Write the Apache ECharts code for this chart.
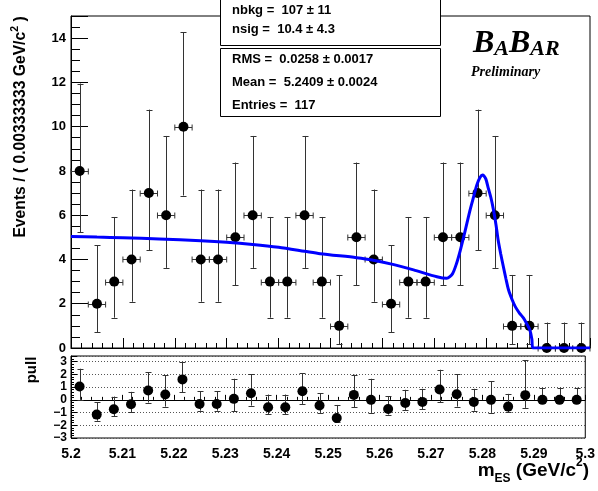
<!DOCTYPE html>
<html>
<head>
<meta charset="utf-8">
<script src="https://cdn.jsdelivr.net/npm/echarts@6/dist/echarts.min.js"></script>
<style>
  html, body { margin: 0; padding: 0; background: #fff; }
  #chart { width: 598px; height: 491px; }
</style>
</head>
<body>
<div id="chart"></div>
<script>
// data
const binCenters = [5.20167, 5.205, 5.20833, 5.21167, 5.215, 5.21833, 5.22167, 5.225, 5.22833, 5.23167,
                    5.235, 5.23833, 5.24167, 5.245, 5.24833, 5.25167, 5.255, 5.25833, 5.26167, 5.265,
                    5.26833, 5.27167, 5.275, 5.27833, 5.28167, 5.285, 5.28833, 5.29167, 5.295, 5.29833];
const binHalfWidth = 0.00166667;
const counts    = [8, 2, 3, 4, 7, 6, 10, 4, 4, 5, 6, 3, 3, 6, 3, 1, 5, 4, 2, 3, 3, 5, 5, 7, 6, 1, 1, 0, 0, 0];
const countLow  = [5.23, 0.71, 1.37, 2.09, 4.42, 3.62, 6.89, 2.09, 2.09, 2.84, 3.62, 1.37, 1.37, 3.62, 1.37,
                   0.17, 2.84, 2.09, 0.71, 1.37, 1.37, 2.84, 2.84, 4.42, 3.62, 0.17, 0.17, 0, 0, 0];
const countHigh = [11.95, 4.64, 5.92, 7.16, 10.77, 9.58, 14.27, 7.16, 7.16, 8.38, 9.58, 5.92, 5.92, 9.58, 5.92,
                   3.30, 8.38, 7.16, 4.64, 5.92, 5.92, 8.38, 8.38, 10.77, 9.58, 3.30, 3.30, 1.15, 1.15, 1.15];

const pull     = [1.05, -1.16, -0.74, -0.35, 0.74, 0.42, 1.61, -0.32, -0.32, 0.08, 0.52, -0.58, -0.58, 0.68, -0.45,
                  -1.43, 0.39, 0.0, -0.72, -0.24, -0.16, 0.82, 0.44, -0.16, 0.0, -0.53, 0.37, 0, 0, 0];
const pullLow  = [0.0, -1.64, -1.27, -0.98, -0.21, -0.53, 0.6, -0.85, -0.85, -0.9, -0.45, -1.11, -1.11, -0.32, -1.0,
                  -1.77, -0.58, -1.0, -1.16, -0.79, -0.74, -0.19, -0.53, -0.85, -1.0, -0.98, -0.63, 0, 0, 0];
const pullHigh = [2.45, -0.19, 0.26, 0.63, 2.19, 1.92, 2.95, 0.68, 0.68, 1.66, 2.0, 0.42, 0.42, 2.1, 0.52,
                  -0.4, 1.98, 1.66, 0.29, 0.79, 0.87, 2.37, 2.0, 0.87, 1.47, 0.47, 3.1, 0.95, 0.95, 0.95];

// fit curve (ARGUS + gaussian), read point by point
const curveX = [5.200, 5.205, 5.210, 5.217, 5.225, 5.230, 5.235, 5.240, 5.245, 5.248, 5.255, 5.258, 5.262, 5.266,
                5.2705, 5.2724, 5.2735, 5.2743, 5.2750, 5.2756, 5.2763, 5.2769, 5.2776, 5.2782, 5.2788, 5.2793,
                5.2799, 5.2804, 5.2809, 5.2814, 5.2819, 5.2823, 5.2828, 5.2833, 5.2838, 5.2843, 5.2850, 5.2856,
                5.2864, 5.2872, 5.2878, 5.2884, 5.2888, 5.2890, 5.3000];
const curveY = [5.04, 5.01, 4.98, 4.93, 4.85, 4.78, 4.68, 4.55, 4.37, 4.26, 4.08, 3.98, 3.78, 3.53,
                3.22, 3.15, 3.35, 3.83, 4.40, 4.96, 5.65, 6.24, 6.85, 7.37, 7.70, 7.82,
                7.65, 7.22, 6.80, 6.24, 5.55, 4.88, 4.25, 3.68, 3.13, 2.63, 2.18, 1.87,
                1.58, 1.35, 1.10, 0.82, 0.40, 0.00, 0.00];

const xTickLabels = ['5.2', '5.21', '5.22', '5.23', '5.24', '5.25', '5.26', '5.27', '5.28', '5.29', '5.3'];
const yTickLabels = ['0', '2', '4', '6', '8', '10', '12', '14'];
const pullTickLabels = ['\u22123', '\u22122', '\u22121', '0', '1', '2', '3'];

const boxLines1 = ['nbkg =  107 \u00b1 11', 'nsig =  10.4 \u00b1 4.3'];
const boxLines2 = ['RMS =  0.0258 \u00b1 0.0017', 'Mean =  5.2409 \u00b1 0.0024', 'Entries =  117'];

const FONT = '"Liberation Sans", Arial, Helvetica, sans-serif';
const SERIF = '"Liberation Serif", "Times New Roman", serif';

const chart = echarts.init(document.getElementById('chart'), null, { renderer: 'canvas' });

const xLabel = v => {
    const i = Math.round((v - 5.2) / 0.01);
    return Math.abs(v - (5.2 + i * 0.01)) < 1e-6 ? (xTickLabels[i] ?? '') : '';
};

// vertical (+ optional horizontal) error bars with small end caps
const errBars = (withHoriz) => (params, api) => {
    const x = api.value(0), y = api.value(1);
    const c = api.coord([x, y]);
    const top = api.coord([x, api.value(3)]);
    const bot = api.coord([x, api.value(2)]);
    const px = Math.round(c[0]) + 0.5;
    const cap = 3;
    const st = { stroke: '#333', lineWidth: 1 };
    const children = [
        { type: 'line', shape: { x1: px, y1: top[1], x2: px, y2: bot[1] }, style: st },
        { type: 'line', shape: { x1: px - cap, y1: Math.round(top[1]) + 0.5, x2: px + cap, y2: Math.round(top[1]) + 0.5 }, style: st },
        { type: 'line', shape: { x1: px - cap, y1: Math.round(bot[1]) + 0.5, x2: px + cap, y2: Math.round(bot[1]) + 0.5 }, style: st }
    ];
    if (withHoriz) {
        const l = api.coord([x - binHalfWidth, y]);
        const r = api.coord([x + binHalfWidth, y]);
        const py = Math.round(c[1]) + 0.5;
        children.push(
            { type: 'line', shape: { x1: l[0], y1: py, x2: r[0], y2: py }, style: st },
            { type: 'line', shape: { x1: l[0], y1: py - cap, x2: l[0], y2: py + cap }, style: st },
            { type: 'line', shape: { x1: r[0], y1: py - cap, x2: r[0], y2: py + cap }, style: st }
        );
    }
    return { type: 'group', children };
};

const tickStyle = { color: '#000', width: 1 };

chart.setOption({
    animation: false,
    backgroundColor: '#fff',
    textStyle: { fontFamily: FONT },
    grid: [
        { left: 71, right: 8, top: 16, height: 332, show: true, borderColor: '#000', borderWidth: 1, backgroundColor: '#fff' },
        { left: 71, right: 8, top: 356, height: 82, show: true, borderColor: '#000', borderWidth: 1, backgroundColor: '#fff' }
    ],
    xAxis: [
        {
            gridIndex: 0, type: 'value', min: 5.2, max: 5.3, interval: 0.01,
            axisLine: { lineStyle: tickStyle },
            axisTick: { inside: true, length: 10, lineStyle: tickStyle },
            minorTick: { show: true, splitNumber: 5, length: 5, lineStyle: tickStyle },
            axisLabel: { show: false },
            splitLine: { show: false }
        },
        {
            gridIndex: 1, type: 'value', min: 5.2, max: 5.3, interval: 0.01,
            axisLine: { lineStyle: tickStyle },
            axisTick: { inside: true, length: 5, lineStyle: tickStyle },
            minorTick: { show: true, splitNumber: 5, length: 3, lineStyle: tickStyle },
            axisLabel: { formatter: xLabel, color: '#000', fontWeight: 'bold', fontSize: 14, margin: 9, fontFamily: FONT },
            splitLine: { show: false }
        }
    ],
    yAxis: [
        {
            gridIndex: 0, type: 'value', min: 0, max: 15, interval: 2,
            axisLine: { lineStyle: tickStyle },
            axisTick: { inside: true, length: 17, lineStyle: tickStyle },
            minorTick: { show: true, splitNumber: 4, length: 9, lineStyle: tickStyle },
            axisLabel: {
                formatter: v => yTickLabels.includes(String(v)) ? String(v) : '',
                color: '#000', fontWeight: 'bold', fontSize: 13, margin: 5, fontFamily: FONT
            },
            splitLine: { show: false }
        },
        {
            gridIndex: 1, type: 'value', min: -3, max: 3.45, interval: 1,
            axisLine: { lineStyle: tickStyle },
            axisTick: { inside: true, length: 6, lineStyle: tickStyle },
            minorTick: { show: true, splitNumber: 5, length: 3, lineStyle: tickStyle },
            axisLabel: {
                formatter: v => {
                    const i = Math.round(v) + 3;
                    return Math.abs(v - Math.round(v)) < 1e-6 ? (pullTickLabels[i] ?? '') : '';
                },
                color: '#000', fontWeight: 'bold', fontSize: 12, margin: 4, fontFamily: FONT, lineHeight: 12
            },
            splitLine: { show: true, lineStyle: { color: '#555', type: [1, 2], width: 1 } }
        }
    ],
    series: [
        {
            type: 'custom', xAxisIndex: 0, yAxisIndex: 0, z: 2,
            renderItem: errBars(true),
            data: binCenters.map((x, i) => [x, counts[i], countLow[i], countHigh[i]])
        },
        {
            type: 'scatter', xAxisIndex: 0, yAxisIndex: 0, z: 3,
            symbol: 'circle', symbolSize: 10, itemStyle: { color: '#000', opacity: 1 },
            data: binCenters.map((x, i) => [x, counts[i]])
        },
        {
            type: 'line', xAxisIndex: 0, yAxisIndex: 0, z: 4,
            showSymbol: false, smooth: 0.25,
            lineStyle: { color: '#0000ff', width: 3 },
            data: curveX.map((x, i) => [x, curveY[i]])
        },
        {
            type: 'custom', xAxisIndex: 1, yAxisIndex: 1, z: 2,
            renderItem: errBars(false),
            data: binCenters.map((x, i) => [x, pull[i], pullLow[i], pullHigh[i]])
        },
        {
            type: 'scatter', xAxisIndex: 1, yAxisIndex: 1, z: 3,
            symbol: 'circle', symbolSize: 10, itemStyle: { color: '#000', opacity: 1 },
            data: binCenters.map((x, i) => [x, pull[i]])
        }
    ],
    graphic: [
        // stat boxes
        { type: 'rect', z: 100, shape: { x: 220.5, y: -0.5, width: 220, height: 46 }, style: { fill: '#fff', stroke: '#000', lineWidth: 1 } },
        { type: 'rect', z: 100, shape: { x: 220.5, y: 48.5, width: 220, height: 68 }, style: { fill: '#fff', stroke: '#000', lineWidth: 1 } },
        ...boxLines1.map((t, i) => ({
            type: 'text', z: 101, x: 232, y: 17 + i * 19,
            style: { text: t, fill: '#000', font: 'bold 13px ' + FONT, textVerticalAlign: 'bottom' }
        })),
        ...boxLines2.map((t, i) => ({
            type: 'text', z: 101, x: 232, y: 66 + i * 23,
            style: { text: t, fill: '#000', font: 'bold 13px ' + FONT, textVerticalAlign: 'bottom' }
        })),
        // BaBar logo
        {
            type: 'text', z: 101, x: 473, y: 60,
            style: {
                text: '{b|B}{s|A}{b|B}{s|AR}', textVerticalAlign: 'bottom',
                rich: {
                    b: { fontFamily: SERIF, fontStyle: 'italic', fontWeight: 'bold', fontSize: 32, fill: '#000', lineHeight: 31, verticalAlign: 'bottom' },
                    s: { fontFamily: SERIF, fontStyle: 'italic', fontWeight: 'bold', fontSize: 22, fill: '#000', lineHeight: 22, verticalAlign: 'bottom' }
                }
            }
        },
        {
            type: 'text', z: 101, x: 471, y: 79,
            style: { text: 'Preliminary', fill: '#000', font: 'italic bold 14px ' + SERIF, textVerticalAlign: 'bottom' }
        },
        // y title
        {
            type: 'text', z: 101, x: 21, y: 127, rotation: Math.PI / 2,
            style: {
                text: '{m|Events / ( 0.00333333 GeV/c}{s|2}{m| )}', textAlign: 'center', textVerticalAlign: 'middle',
                rich: {
                    m: { fontFamily: FONT, fontWeight: 'bold', fontSize: 15.7, fill: '#000', lineHeight: 22 },
                    s: { fontFamily: FONT, fontWeight: 'bold', fontSize: 10.5, fill: '#000', lineHeight: 10, verticalAlign: 'top' }
                }
            }
        },
        {
            type: 'text', z: 101, x: 32, y: 370, rotation: Math.PI / 2,
            style: { text: 'pull', fill: '#000', font: 'bold 15px ' + FONT, textAlign: 'center', textVerticalAlign: 'middle' }
        },
        // x title
        {
            type: 'text', z: 101, x: 589, y: 471,
            style: {
                text: '{m|m}{sub|ES}{m| (GeV/c}{sup|2}{m|)}', textAlign: 'right', textVerticalAlign: 'middle',
                rich: {
                    m: { fontFamily: FONT, fontWeight: 'bold', fontSize: 19, fill: '#000', lineHeight: 28 },
                    sub: { fontFamily: FONT, fontWeight: 'bold', fontSize: 12, fill: '#000', lineHeight: 12, verticalAlign: 'bottom' },
                    sup: { fontFamily: FONT, fontWeight: 'bold', fontSize: 12, fill: '#000', lineHeight: 12, verticalAlign: 'top' }
                }
            }
        }
    ]
});
</script>
</body>
</html>
